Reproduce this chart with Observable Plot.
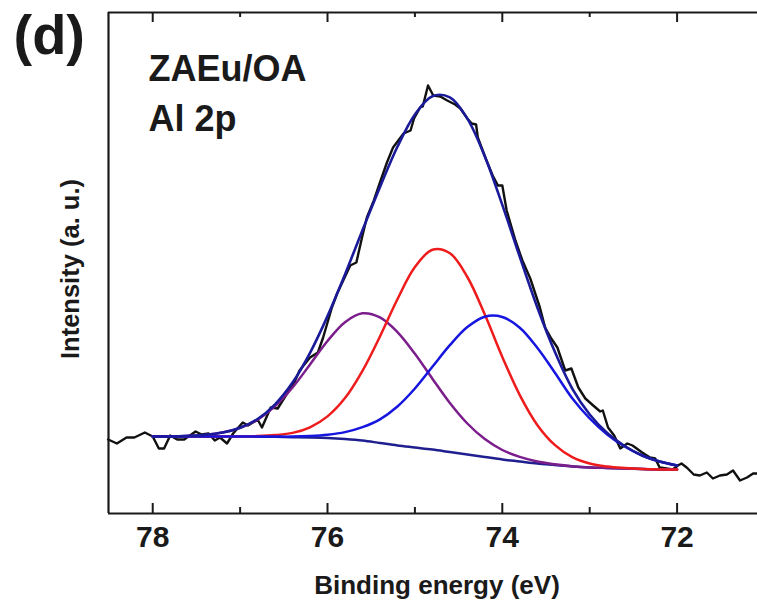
<!DOCTYPE html>
<html>
<head>
<meta charset="utf-8">
<script src="https://cdn.jsdelivr.net/npm/d3@7"></script>
<script src="https://cdn.jsdelivr.net/npm/@observablehq/plot@0.6"></script>
<style>
  html, body { margin: 0; padding: 0; background: #fff; }
  #chart { width: 757px; height: 608px; }
</style>
</head>
<body>
<div id="chart"></div>
<script>
// Measured spectrum (binding energy in eV, intensity in a.u.)
const dataEnergy = [78.51,78.41,78.30,78.21,78.09,78.00,77.93,77.87,77.80,77.72,77.64,77.51,77.44,77.36,77.29,77.23,77.15,77.08,76.97,76.91,76.80,76.75,76.65,76.57,76.47,76.37,76.32,76.20,76.11,76.05,75.95,75.89,75.82,75.74,75.67,75.60,75.55,75.47,75.40,75.32,75.25,75.13,75.05,75.01,74.94,74.91,74.85,74.79,74.71,74.63,74.54,74.48,74.40,74.35,74.30,74.28,74.19,74.11,74.05,74.00,73.95,73.85,73.77,73.68,73.57,73.51,73.44,73.37,73.28,73.21,73.13,73.05,72.96,72.88,72.85,72.79,72.72,72.65,72.57,72.51,72.40,72.31,72.25,72.20,72.12,72.05,71.99,71.95,71.89,71.81,71.74,71.66,71.59,71.51,71.43,71.36,71.28,71.20,71.13,71.09];
const dataIntensity = [74,70,76,76,81,77,65,65,78,74,74,82,79,80,73,76,70,80,91,88,94,86,106,105,119,133,143,156,161,176,206,220,233,248,251,278,296,313,331,351,366,380,383,395,406,407,428,418,417,413,409,405,395,390,389,376,355,338,328,328,303,273,253,235,206,186,175,166,143,145,126,115,108,102,103,86,78,65,70,68,61,56,55,46,45,44,48,50,46,39,38,41,35,38,39,43,33,36,40,40];

// Fit curves, sampled on a common energy grid
const fitEnergy = [78.0,77.8,77.6,77.4,77.2,77.0,76.8,76.6,76.4,76.2,76.0,75.8,75.6,75.4,75.2,75.0,74.8,74.6,74.4,74.2,74.0,73.8,73.6,73.4,73.2,73.0,72.8,72.6,72.4,72.2,72.0];
const background = [77,77,77,77,77,77,76.8,76.7,76.3,76,75.5,74.5,73,70.5,68,66,64,61.5,59,56.5,54,52,50,48.5,47,46,45.5,45,44.5,44,44];
const peakPurple = [77,77.2,77.6,78.6,80.9,85.6,93.8,107.3,126,149,172.5,191.3,200.2,196.1,181.4,159.7,134.8,110.5,90,74.4,63.5,56.6,52,49.3,47.3,46.1,45.5,45,44.5,44,44];
const peakRed = [77,77,77,77,77,77,77.4,78.4,80.6,86.2,97.1,115.4,142.7,177,214.3,246.4,263.8,260.3,236.5,198.9,156.6,118.4,88.6,68.6,56.4,50,47,45.5,44.5,44,44];
const peakBlue = [77,77,77,77,77,77,76.9,76.9,76.9,77.5,78.8,81.4,86.4,94.2,107,125,146.7,168.3,186.4,196.8,196.5,185.7,165.7,141,115.2,95,79,67,58,52,48];
const envelope = [77,77,77.6,78.6,80.9,85.8,94.5,109.2,130.9,160.7,197.4,239.1,283.3,326.3,366.7,399.1,417.3,416.1,394.9,357.1,308.6,256.7,206.3,161.9,124.9,99,80.5,67.5,58,52,48];

const majorTicks = [78, 76, 74, 72];
const minorTicks = [77, 75, 73];
const xDomain = [78.506, 71.08];
const yDomain = [0, 501];

const series = (name, values) => fitEnergy.map((e, i) => ({e, v: values[i], name}));
const measured = dataEnergy.map((e, i) => ({e, v: dataIntensity[i]}));

const font = "'Liberation Sans', Arial, Helvetica, sans-serif";
const ink = "#1a1a1a";

const chart = Plot.plot({
  width: 757,
  height: 608,
  marginLeft: 108,
  marginRight: 0,
  marginTop: 12,
  marginBottom: 95,
  x: {domain: xDomain, axis: null},
  y: {domain: yDomain, axis: null},
  style: {fontFamily: font, background: "white", color: ink, overflow: "visible"},
  marks: [
    // measured data
    Plot.line(measured, {x: "e", y: "v", stroke: "#111", strokeWidth: 2.4, curve: "linear"}),
    // background and components
    Plot.line(series("bg", background), {x: "e", y: "v", stroke: "#1f1f8f", strokeWidth: 2.5, curve: "catmull-rom"}),
    Plot.line(series("purple", peakPurple), {x: "e", y: "v", stroke: "#7b1e8c", strokeWidth: 2.5, curve: "catmull-rom"}),
    Plot.line(series("red", peakRed), {x: "e", y: "v", stroke: "#ee1c1c", strokeWidth: 2.5, curve: "catmull-rom"}),
    Plot.line(series("blue", peakBlue), {x: "e", y: "v", stroke: "#1616e0", strokeWidth: 2.5, curve: "catmull-rom"}),
    Plot.line(series("env", envelope), {x: "e", y: "v", stroke: "#1a1a9a", strokeWidth: 2.6, curve: "catmull-rom"}),
    // frame (left, top, bottom)
    Plot.ruleY(yDomain, {y: d => d, stroke: ink, strokeWidth: 2.2}),
    Plot.ruleX([xDomain[0]], {x: d => d, stroke: ink, strokeWidth: 2.2}),
    // inward ticks, bottom and top
    Plot.ruleX(majorTicks, {x: d => d, y1: () => 0, y2: () => 10, stroke: ink, strokeWidth: 2}),
    Plot.ruleX(minorTicks, {x: d => d, y1: () => 0, y2: () => 6, stroke: ink, strokeWidth: 2}),
    Plot.ruleX(majorTicks, {x: d => d, y1: () => 491, y2: () => 501, stroke: ink, strokeWidth: 2}),
    Plot.ruleX(minorTicks, {x: d => d, y1: () => 496, y2: () => 501, stroke: ink, strokeWidth: 2}),
    // tick labels via the x axis
    Plot.axisX({ticks: majorTicks, tickSize: 0, tickPadding: 12, fontSize: 30, fontWeight: "bold", label: null, anchor: "bottom", fill: ink}),
    // axis titles
    Plot.text(["Binding energy (eV)"], {frameAnchor: "bottom", textAnchor: "middle", dx: 4, dy: 80, lineAnchor: "bottom", fontSize: 26, fontWeight: "bold", fill: ink}),
    Plot.text(["Intensity (a. u.)"], {frameAnchor: "left", textAnchor: "middle", dx: -30, dy: 6, rotate: -90, lineAnchor: "bottom", fontSize: 25.5, fontWeight: "bold", fill: ink}),
    // annotations
    Plot.text(["(d)"], {frameAnchor: "top-left", dx: -95, dy: 41, textAnchor: "start", lineAnchor: "bottom", fontSize: 56, fontWeight: "bold", fill: ink}),
    Plot.text(["ZAEu/OA"], {frameAnchor: "top-left", dx: 40, dy: 68, textAnchor: "start", lineAnchor: "bottom", fontSize: 36, fontWeight: "bold", fill: ink}),
    Plot.text(["Al 2p"], {frameAnchor: "top-left", dx: 40, dy: 118, textAnchor: "start", lineAnchor: "bottom", fontSize: 36, fontWeight: "bold", fill: ink})
  ]
});
document.getElementById("chart").appendChild(chart);
</script>
</body>
</html>
